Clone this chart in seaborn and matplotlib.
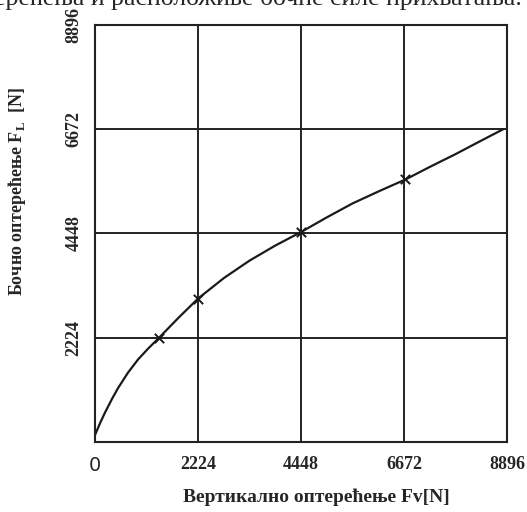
import pandas as pd
import matplotlib.pyplot as plt
import seaborn as sns

# values
fv = [0, 108, 216, 367, 497, 712, 928, 1144, 1382, 1792, 2224, 2785, 3336, 3890,
      4448, 5000, 5560, 6130, 6700, 7250, 7780, 8300, 8810]
fl = [150, 400, 630, 920, 1150, 1480, 1760, 1990, 2224, 2640, 3060, 3500, 3870, 4190,
      4480, 4790, 5090, 5350, 5600, 5880, 6140, 6410, 6672]
mark_fv = [1382, 2224, 4448, 6700]
mark_fl = [2224, 3060, 4480, 5600]
ticks = [0, 2224, 4448, 6672, 8896]

df = pd.DataFrame({'Fv': fv, 'FL': fl})
marks = pd.DataFrame({'Fv': mark_fv, 'FL': mark_fl})

sns.set_theme(style="white")
plt.rcParams['font.family'] = ['Liberation Serif', 'DejaVu Serif']
plt.rcParams['mathtext.fontset'] = 'custom'
plt.rcParams['mathtext.rm'] = 'Liberation Serif:bold'
plt.rcParams['mathtext.bf'] = 'Liberation Serif:bold'

fig = plt.figure(figsize=(5.27, 5.12), dpi=100)
ax = fig.add_axes([0.1803, 0.1367, 0.782, 0.8145])

sns.lineplot(data=df, x='Fv', y='FL', color='#1a1a1a', linewidth=1.6, ax=ax)
sns.scatterplot(data=marks, x='Fv', y='FL', marker='x', s=45, color='#1a1a1a',
                linewidth=1.4, ax=ax, zorder=5)

ax.set_xlim(0, 8896)
ax.set_ylim(0, 8896)
ax.set_xticks(ticks)
ax.set_yticks(ticks)
ax.grid(True, color='#222222', linewidth=1.4)
for s in ax.spines.values():
    s.set_color('#222222')
    s.set_linewidth(1.5)

ax.set_xticklabels(['0', '2224', '4448', '6672', '8896'], fontsize=13, fontweight='bold')
ax.set_yticklabels(['', '2224', '4448', '6672', '8896'], fontsize=13, fontweight='bold',
                   rotation=90, va='center')
ax.get_xticklabels()[0].set_fontfamily('DejaVu Sans')
ax.get_xticklabels()[0].set_fontweight('normal')
ax.get_xticklabels()[0].set_fontsize(14)
ax.tick_params(axis='x', length=0, pad=10)
ax.tick_params(axis='y', length=0, pad=9)

ax.set_xlabel('')
ax.set_ylabel('')
fig.text(0.60, 0.029, 'Вертикално оптерећење Fv[N]', ha='center', va='center',
         fontsize=14, fontweight='bold')
fig.text(0.032, 0.625, r'Бочно оптерећење F$_\mathrm{L}$  [N]', ha='center', va='center',
         fontsize=13, fontweight='bold', rotation=90)

# clipped line of the page text above the chart
fig.text(0.49, 1.003, 'ерећења и расположиве бочне силе прихватања.', ha='center',
         va='center', fontsize=18.5)

plt.savefig("out.png", dpi=100)
